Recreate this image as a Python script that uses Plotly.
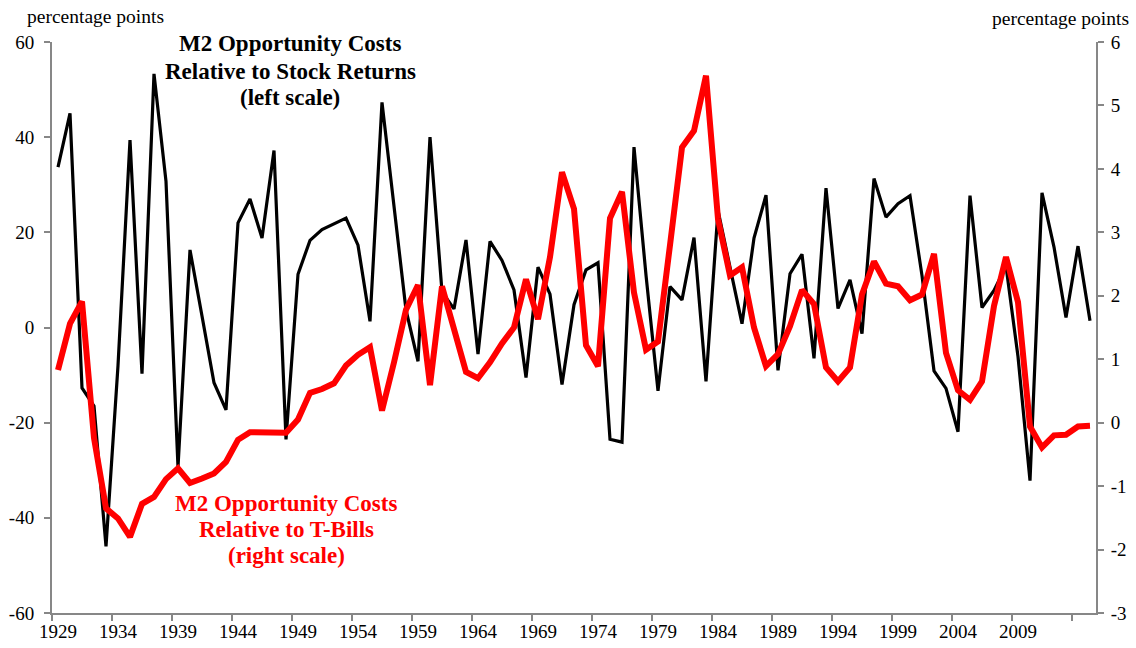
import plotly.graph_objects as go

years = list(range(1929, 2016))

stock_gap = [
    33.7, 45.0, -12.7, -16.5, -46.0, -8.0, 39.4, -9.7, 53.3, 30.7,
    -29.3, 16.3, 2.4, -11.6, -17.3, 22.0, 27.0, 18.8, 37.2, -23.5,
    11.2, 18.3, 20.6, 21.8, 23.0, 17.3, 1.3, 47.3, 25.8, 3.7,
    -7.1, 40.0, 7.5, 3.9, 18.4, -5.6, 18.1, 14.1, 7.9, -10.5,
    12.7, 7.0, -12.0, 4.8, 12.1, 13.6, -23.5, -24.1, 37.9, 11.0,
    -13.3, 8.6, 5.8, 18.9, -11.3, 24.6, 12.7, 0.8, 18.8, 27.8,
    -9.0, 11.3, 15.4, -6.5, 29.3, 4.0, 10.0, -1.3, 31.3, 23.2,
    26.0, 27.7, 10.9, -9.1, -12.8, -21.9, 27.7, 4.2, 7.8, 12.9,
    -6.1, -32.2, 28.3, 16.9, 2.1, 17.1, 1.4,
]

tbill_gap = [
    0.83, 1.56, 1.91, -0.24, -1.35, -1.51, -1.80, -1.28, -1.17, -0.89,
    -0.72, -0.95, -0.88, -0.80, -0.62, -0.27, -0.15, -0.15, -0.17, -0.16,
    0.05, 0.47, 0.53, 0.62, 0.90, 1.07, 1.19, 0.19, 0.95, 1.78,
    2.17, 0.59, 2.15, 1.49, 0.80, 0.70, 0.95, 1.25, 1.50, 2.26,
    1.63, 2.61, 3.95, 3.37, 1.22, 0.89, 3.22, 3.64, 2.05, 1.15,
    1.28, 2.80, 4.34, 4.60, 5.47, 3.21, 2.32, 2.45, 1.50, 0.89,
    1.08, 1.52, 2.09, 1.87, 0.87, 0.65, 0.87, 2.02, 2.54, 2.19,
    2.15, 1.93, 2.02, 2.66, 1.10, 0.51, 0.36, 0.65, 1.84, 2.61,
    1.90, -0.06, -0.39, -0.20, -0.19, -0.06, -0.05,
]

x_tick_years = [1929, 1934, 1939, 1944, 1949, 1954, 1959, 1964, 1969,
                1974, 1979, 1984, 1989, 1994, 1999, 2004, 2009]
x_tick_labels = [str(y) for y in x_tick_years]
x_boundary_ticks = [1928.5 + 5 * i for i in range(18)]

left_ticks = [-60, -40, -20, 0, 20, 40, 60]
left_labels = ["-60", "-40", "-20", "0", "20", "40", "60"]
right_ticks = [-3, -2, -1, 0, 1, 2, 3, 4, 5, 6]
right_labels = ["-3", "-2", "-1", "0", "1", "2", "3", "4", "5", "6"]

FONT = "Liberation Serif"
AXIS_GRAY = "#878787"

fig = go.Figure()
fig.add_trace(go.Scatter(
    x=years, y=stock_gap, mode="lines", yaxis="y",
    line=dict(color="#000000", width=3.2), showlegend=False,
))
fig.add_trace(go.Scatter(
    x=years, y=tbill_gap, mode="lines", yaxis="y2",
    line=dict(color="#FF0000", width=6), showlegend=False,
))

fig.update_layout(
    width=1136, height=648,
    margin=dict(l=52, r=40, t=42, b=35),
    paper_bgcolor="white", plot_bgcolor="white",
    font=dict(family=FONT, size=19, color="#000000"),
    xaxis=dict(
        range=[1928.5, 2015.5], showgrid=False, zeroline=False,
        automargin=False,
        showline=True, linecolor=AXIS_GRAY, linewidth=2,
        tickmode="array", tickvals=x_tick_years, ticktext=x_tick_labels,
        ticks="", tickfont=dict(family=FONT, size=19, color="#000000"),
        minor=dict(tickmode="array", tickvals=x_boundary_ticks,
                   ticks="outside", ticklen=6, tickcolor=AXIS_GRAY,
                   tickwidth=2, showgrid=False),
        fixedrange=True,
    ),
    yaxis=dict(
        range=[-60, 60], tickmode="array", tickvals=left_ticks,
        ticktext=left_labels, automargin=False,
        showgrid=False, zeroline=False,
        showline=True, linecolor=AXIS_GRAY, linewidth=2,
        ticks="outside", ticklen=6, tickcolor=AXIS_GRAY, tickwidth=2,
        ticklabelstandoff=6,
        tickfont=dict(family=FONT, size=19, color="#000000"),
        fixedrange=True,
    ),
    yaxis2=dict(
        range=[-3, 6], tickmode="array", tickvals=right_ticks,
        ticktext=right_labels, automargin=False,
        overlaying="y", side="right",
        showgrid=False, zeroline=False,
        showline=True, linecolor=AXIS_GRAY, linewidth=2,
        ticks="outside", ticklen=6, tickcolor=AXIS_GRAY, tickwidth=2,
        ticklabelstandoff=3,
        tickfont=dict(family=FONT, size=19, color="#000000"),
        fixedrange=True,
    ),
)

annos = []
# unit labels
annos.append(dict(text="percentage points", xref="paper", yref="paper",
                  x=(25 - 52) / 1044, y=(613 - 16) / 571,
                  xanchor="left", yanchor="middle", showarrow=False,
                  font=dict(family=FONT, size=19.5, color="#000000")))
annos.append(dict(text="percentage points", xref="paper", yref="paper",
                  x=(1131 - 52) / 1044, y=(613 - 19) / 571,
                  xanchor="right", yanchor="middle", showarrow=False,
                  font=dict(family=FONT, size=19.5, color="#000000")))

black_lines = ["M2 Opportunity Costs", "Relative to Stock Returns", "(left scale)"]
black_y = [59.7, 53.8, 48.3]
for t, yv in zip(black_lines, black_y):
    annos.append(dict(text="<b>" + t + "</b>", x=1948.36, y=yv, xref="x", yref="y",
                      xanchor="center", yanchor="middle", showarrow=False,
                      font=dict(family=FONT, size=23, color="#000000")))

red_lines = ["M2 Opportunity Costs", "Relative to T-Bills", "(right scale)"]
red_y = [-36.9, -42.5, -48.0]
for t, yv in zip(red_lines, red_y):
    annos.append(dict(text="<b>" + t + "</b>", x=1948.0, y=yv, xref="x", yref="y",
                      xanchor="center", yanchor="middle", showarrow=False,
                      font=dict(family=FONT, size=23, color="#FF0000")))

fig.update_layout(annotations=annos)
fig.write_html("out.html", config={"displayModeBar": False},
               post_script="document.body.style.margin='0px';")
